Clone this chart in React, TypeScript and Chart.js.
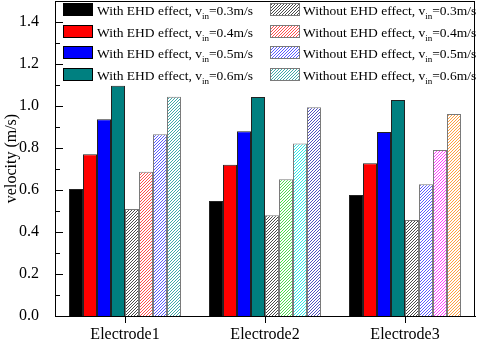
import React, { useEffect, useRef } from "react";
import { Chart, registerables } from "chart.js";

Chart.register(...registerables);

const categories = ["Electrode1", "Electrode2", "Electrode3"];

const withEHD03 = [0.605, 0.548, 0.576];
const withEHD04 = [0.77, 0.72, 0.727];
const withEHD05 = [0.937, 0.88, 0.876];
const withEHD06 = [1.097, 1.043, 1.029];
const withoutEHD03 = [0.51, 0.48, 0.457];
const withoutEHD04 = [0.687, 0.651, 0.627];
const withoutEHD05 = [0.865, 0.822, 0.79];
const withoutEHD06 = [1.044, 0.994, 0.962];

const speeds = ["0.3", "0.4", "0.5", "0.6"];
const solidColors = ["#000000", "#ff0000", "#0000ff", "#008080"];
// hatch colours per electrode group (each "without" series varies by group)
const hatchColors03 = ["#4a4a4a", "#4a4a4a", "#4a4a4a"];
const hatchColors04 = ["#ff4c4c", "#4cdc4c", "#5a5aff"];
const hatchColors05 = ["#5a5aff", "#30e8e8", "#ff40ff"];
const hatchColors06 = ["#40a8a8", "#5050c0", "#ffa040"];

const yTickValues = [0, 0.2, 0.4, 0.6, 0.8, 1.0, 1.2, 1.4];
const yMinorValues = [0.1, 0.3, 0.5, 0.7, 0.9, 1.1, 1.3];
const yMin = 0;
const yMax = 1.5;

const FONT = '"Liberation Serif", "Times New Roman", serif';

function makeHatch(color: string): CanvasPattern | string {
  const c = document.createElement("canvas");
  c.width = 3;
  c.height = 3;
  const g = c.getContext("2d");
  if (!g) return color;
  g.fillStyle = "#ffffff";
  g.fillRect(0, 0, 3, 3);
  g.fillStyle = color;
  g.fillRect(0, 2, 1, 1);
  g.fillRect(1, 1, 1, 1);
  g.fillRect(2, 0, 1, 1);
  const p = g.createPattern(c, "repeat");
  return p || color;
}

export default function App() {
  const ref = useRef<HTMLCanvasElement | null>(null);

  useEffect(() => {
    document.body.style.margin = "0";
    const canvas = ref.current;
    if (!canvas) return;

    const withSeries = [withEHD03, withEHD04, withEHD05, withEHD06];
    const withoutSeries = [withoutEHD03, withoutEHD04, withoutEHD05, withoutEHD06];
    const hatchSets = [hatchColors03, hatchColors04, hatchColors05, hatchColors06];

    const datasets: any[] = [];
    withSeries.forEach((d, i) => {
      datasets.push({
        label: `With EHD effect, vin=${speeds[i]}m/s`,
        data: d,
        backgroundColor: solidColors[i],
        borderColor: "#222222",
        borderWidth: 1,
      });
    });
    withoutSeries.forEach((d, i) => {
      datasets.push({
        label: `Without EHD effect, vin=${speeds[i]}m/s`,
        data: d,
        backgroundColor: hatchSets[i].map((c) => makeHatch(c)),
        borderColor: "#7a7a7a",
        borderWidth: 1,
      });
    });

    const legendPlugin = {
      id: "customLegend",
      afterDraw(chart: any) {
        const ctx = chart.ctx as CanvasRenderingContext2D;
        const a = chart.chartArea;
        ctx.save();
        // frame
        ctx.strokeStyle = "#000";
        ctx.lineWidth = 1;
        ctx.strokeRect(Math.round(a.left) + 0.5, Math.round(a.top) + 0.5, Math.round(a.right - a.left) - 1, Math.round(a.bottom - a.top));
        // inward y ticks
        const ys = chart.scales.y;
        ctx.beginPath();
        yTickValues.forEach((v) => {
          const py = Math.round(ys.getPixelForValue(v)) + 0.5;
          ctx.moveTo(a.left, py);
          ctx.lineTo(a.left + 8, py);
        });
        yMinorValues.forEach((v) => {
          const py = Math.round(ys.getPixelForValue(v)) + 0.5;
          ctx.moveTo(a.left, py);
          ctx.lineTo(a.left + 5, py);
        });
        ctx.stroke();

        // legend
        const cols = [
          { sx: a.left + 8, tx: a.left + 42, prefix: "With EHD effect, v", solid: true },
          { sx: a.left + 215, tx: a.left + 248, prefix: "Without EHD effect, v", solid: false },
        ];
        const hatchLegend = [hatchColors03[0], hatchColors04[0], hatchColors05[0], hatchColors06[0]];
        for (let r = 0; r < 4; r++) {
          const top = a.top + 2 + r * 21.5;
          cols.forEach((c) => {
            const sw = 30;
            const sh = 13;
            ctx.fillStyle = c.solid ? solidColors[r] : (makeHatch(hatchLegend[r]) as any);
            ctx.fillRect(c.sx, Math.round(top), sw, sh);
            ctx.strokeStyle = c.solid ? "#000" : "#7a7a7a";
            ctx.strokeRect(c.sx + 0.5, Math.round(top) + 0.5, sw - 1, sh - 1);
            const base = Math.round(top) + 12;
            ctx.fillStyle = "#000";
            ctx.textBaseline = "alphabetic";
            ctx.textAlign = "left";
            ctx.font = `13.5px ${FONT}`;
            ctx.fillText(c.prefix, c.tx, base);
            let x = c.tx + ctx.measureText(c.prefix).width;
            ctx.font = `9px ${FONT}`;
            ctx.fillText("in", x, base + 4);
            x += ctx.measureText("in").width;
            ctx.font = `13.5px ${FONT}`;
            ctx.fillText(`=${speeds[r]}m/s`, x, base);
          });
        }
        ctx.restore();
      },
    };

    const chart = new Chart(canvas, {
      type: "bar",
      data: { labels: categories, datasets },
      options: {
        responsive: false,
        animation: false,
        devicePixelRatio: 1,
        layout: { padding: { top: 1, right: 5, left: 0, bottom: 0 } },
        datasets: { bar: { categoryPercentage: 0.8, barPercentage: 1.0 } } as any,
        plugins: {
          legend: { display: false },
          tooltip: { enabled: false },
        },
        scales: {
          x: {
            type: "category",
            grid: {
              display: true,
              drawOnChartArea: false,
              drawTicks: true,
              tickLength: 7,
              offset: false,
              color: "#000",
            },
            border: { display: true, color: "#000" },
            ticks: {
              color: "#000",
              padding: 2,
              font: { family: FONT, size: 16 },
              maxRotation: 0,
            },
            afterFit: (s: any) => {
              s.height = 35;
              s.paddingLeft = 0;
              s.paddingRight = 0;
            },
          },
          y: {
            min: yMin,
            max: yMax,
            grid: { display: false },
            border: { display: true, color: "#000" },
            afterBuildTicks: (s: any) => {
              s.ticks = yTickValues.map((v) => ({ value: v }));
            },
            ticks: {
              color: "#000",
              padding: 8,
              font: { family: FONT, size: 16 },
              callback: (v: any) => Number(v).toFixed(1),
            },
            title: {
              display: true,
              text: "velocity (m/s)",
              color: "#000",
              font: { family: FONT, size: 16 },
              padding: { top: 2, bottom: 2 },
            },
            afterFit: (s: any) => {
              s.width = 55;
              s.paddingTop = 0;
              s.paddingBottom = 0;
            },
          },
        },
      },
      plugins: [legendPlugin],
    });

    return () => chart.destroy();
  }, []);

  return (
    <div style={{ width: 480, height: 351 }}>
      <canvas ref={ref} width={480} height={351} style={{ display: "block" }} />
    </div>
  );
}
